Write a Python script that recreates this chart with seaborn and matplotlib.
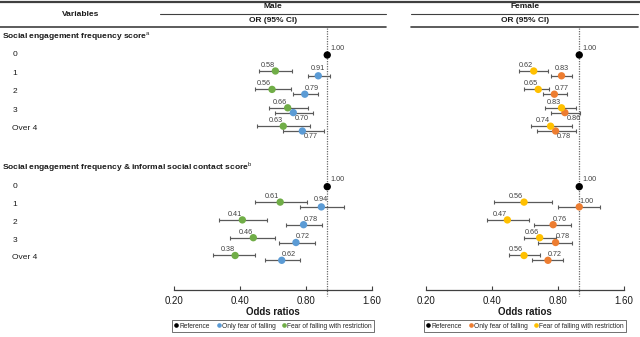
import matplotlib
matplotlib.use("Agg")
import matplotlib.pyplot as plt
from matplotlib.lines import Line2D
from matplotlib.ticker import NullLocator
import numpy as np
import pandas as pd
import seaborn as sns

# ---------------- data ----------------
row_labels = ["0", "1", "2", "3", "Over 4"]
section_titles = [
    r"Social engagement frequency score$^{\mathrm{a}}$",
    r"Social engagement frequency & informal social contact score$^{\mathrm{b}}$",
]
tick_values = [0.20, 0.40, 0.80, 1.60]
tick_labels = ["0.20", "0.40", "0.80", "1.60"]
reference_or = 1.00

# Male: rows 1, 2, 3, Over 4 of each score (row 0 is the reference)
male_s1_fear = [0.91, 0.79, 0.70, 0.77]
male_s1_fear_lo = [0.82, 0.70, 0.58, 0.63]
male_s1_fear_hi = [1.03, 0.91, 0.86, 0.97]
male_s1_restr = [0.58, 0.56, 0.66, 0.63]
male_s1_restr_lo = [0.49, 0.47, 0.54, 0.48]
male_s1_restr_hi = [0.69, 0.68, 0.82, 0.83]

male_s2_fear = [0.94, 0.78, 0.72, 0.62]
male_s2_fear_lo = [0.75, 0.65, 0.60, 0.52]
male_s2_fear_hi = [1.19, 0.95, 0.88, 0.75]
male_s2_restr = [0.61, 0.41, 0.46, 0.38]
male_s2_restr_lo = [0.47, 0.32, 0.36, 0.30]
male_s2_restr_hi = [0.81, 0.53, 0.58, 0.47]

# Female
female_s1_fear = [0.83, 0.77, 0.86, 0.78]
female_s1_fear_lo = [0.74, 0.68, 0.74, 0.64]
female_s1_fear_hi = [0.93, 0.88, 1.01, 0.97]
female_s1_restr = [0.62, 0.65, 0.83, 0.74]
female_s1_restr_lo = [0.53, 0.56, 0.70, 0.60]
female_s1_restr_hi = [0.72, 0.73, 0.97, 0.93]

female_s2_fear = [1.00, 0.76, 0.78, 0.72]
female_s2_fear_lo = [0.80, 0.62, 0.65, 0.61]
female_s2_fear_hi = [1.24, 0.92, 0.93, 0.84]
female_s2_restr = [0.56, 0.47, 0.66, 0.56]
female_s2_restr_lo = [0.41, 0.38, 0.56, 0.48]
female_s2_restr_hi = [0.75, 0.59, 0.78, 0.66]

groups = ["Reference", "Only fear of falling", "Fear of falling with restriction"]

# where each "only fear of falling" value label sits relative to its dot
male_fear_label_side = [["above", "right", "below", "below"],
                        ["above", "right", "right", "right"]]
female_fear_label_side = [["above", "right", "below", "below"],
                          ["right", "right", "right", "right"]]


def build_frame(sex, s1, s2):
    recs = []
    for sec, (fear, flo, fhi, rs, rlo, rhi) in enumerate([s1, s2]):
        recs.append(dict(sex=sex, section=sec, row=0, group="Reference",
                         OR=reference_or, lo=reference_or, hi=reference_or))
        for i in range(4):
            recs.append(dict(sex=sex, section=sec, row=i + 1, group=groups[1],
                             OR=fear[i], lo=flo[i], hi=fhi[i]))
            recs.append(dict(sex=sex, section=sec, row=i + 1, group=groups[2],
                             OR=rs[i], lo=rlo[i], hi=rhi[i]))
    return pd.DataFrame(recs)


df = pd.concat([
    build_frame("Male",
                (male_s1_fear, male_s1_fear_lo, male_s1_fear_hi,
                 male_s1_restr, male_s1_restr_lo, male_s1_restr_hi),
                (male_s2_fear, male_s2_fear_lo, male_s2_fear_hi,
                 male_s2_restr, male_s2_restr_lo, male_s2_restr_hi)),
    build_frame("Female",
                (female_s1_fear, female_s1_fear_lo, female_s1_fear_hi,
                 female_s1_restr, female_s1_restr_lo, female_s1_restr_hi),
                (female_s2_fear, female_s2_fear_lo, female_s2_fear_hi,
                 female_s2_restr, female_s2_restr_lo, female_s2_restr_hi)),
], ignore_index=True)

# ---------------- layout (pixel units of the 640x337 canvas) ----------------
W, H = 640, 337
section_start = [55.0, 186.7]
section_step = [18.4, 17.8]
section_title_y = [36.5, 167.5]
group_offset = {"Reference": 0.0, groups[1]: 2.4, groups[2]: -2.4}

df["ypos"] = [section_start[s] + r * section_step[s] + group_offset[g]
              for s, r, g in zip(df["section"], df["row"], df["group"])]

sns.set_theme(style="white")
plt.rcParams["font.family"] = ["Liberation Sans", "DejaVu Sans"]
plt.rcParams["mathtext.fontset"] = "custom"
plt.rcParams["mathtext.rm"] = "Liberation Sans"
plt.rcParams["mathtext.bf"] = "Liberation Sans:bold"

TXT = "#1a1a1a"
GRID = "#404040"
ERR = "#5a5a5a"

fig = plt.figure(figsize=(6.4, 3.37), dpi=100)
fig.patch.set_facecolor("white")


def fx(px):
    return px / W


def fy(py):
    return 1 - py / H


def hline(y, x0, x1, lw):
    fig.add_artist(Line2D([fx(x0), fx(x1)], [fy(y), fy(y)], color=GRID,
                          lw=lw, transform=fig.transFigure))


# header rules and titles
hline(1.8, 0, 640, 1.6)
hline(14, 160, 386, 0.8)
hline(14, 411, 638, 0.8)
hline(26.5, 0, 386, 1.2)
hline(26.5, 411, 638, 1.2)
fig.text(fx(81), fy(15), "Variables", ha="center", va="center",
         fontsize=6, fontweight="bold", color=TXT)

for sec in range(2):
    fig.text(fx(2), fy(section_title_y[sec]), section_titles[sec], ha="left",
             va="center", fontsize=6, fontweight="bold", color=TXT)
    for r, lab in enumerate(row_labels):
        fig.text(fx(12.5), fy(section_start[sec] + r * section_step[sec]), lab,
                 ha="left", va="center", fontsize=6, color=TXT)

panels = [
    ("Male", 174, 273, {"Reference": "black", groups[1]: "#5b9bd5",
                        groups[2]: "#70ad47"}, male_fear_label_side),
    ("Female", 426, 525, {"Reference": "black", groups[1]: "#ed7d31",
                          groups[2]: "#ffc000"}, female_fear_label_side),
]

ax_top, ax_bottom = 28, 290
for sex, x0, xc, pal, fear_sides in panels:
    fig.text(fx(xc), fy(6.5), sex, ha="center", va="center", fontsize=6,
             fontweight="bold", color=TXT)
    fig.text(fx(xc), fy(20.5), "OR (95% CI)", ha="center", va="center",
             fontsize=6, fontweight="bold", color=TXT)

    ax = fig.add_axes([fx(x0), fy(ax_bottom), 198 / W, (ax_bottom - ax_top) / H])
    ax.set_facecolor("none")
    ax.set_xscale("log")
    ax.set_xlim(0.2, 1.6)
    ax.set_ylim(ax_bottom, ax_top)

    sub = df[df["sex"] == sex]
    ci = sub[sub["group"] != "Reference"]
    ax.errorbar(ci["OR"], ci["ypos"],
                xerr=[ci["OR"] - ci["lo"], ci["hi"] - ci["OR"]],
                fmt="none", ecolor=ERR, elinewidth=0.9, capsize=1.6,
                capthick=0.8, zorder=2)
    sns.scatterplot(data=sub, x="OR", y="ypos", hue="group", palette=pal,
                    s=28, linewidth=0, legend=False, ax=ax, zorder=3)

    # reference line at OR = 1
    ax.plot([reference_or, reference_or], [ax_top, 296], ls=(0, (1, 1)),
            color="#6a6a6a", lw=0.9, clip_on=False, zorder=1)

    # value labels
    for _, rw in sub.iterrows():
        txt = f"{rw['OR']:.2f}"
        if rw["group"] == "Reference":
            kw = dict(xytext=(2.5, 2.5), ha="left", va="bottom")
        elif rw["group"] == groups[2]:
            kw = dict(xytext=(-0.5, 1.5), ha="right", va="bottom")
        else:
            side = fear_sides[rw["section"]][rw["row"] - 1]
            if side == "above":
                kw = dict(xytext=(0, 3.0), ha="center", va="bottom")
            elif side == "right":
                kw = dict(xytext=(0.0, 1.5), ha="left", va="bottom")
            else:
                kw = dict(xytext=(1.0, -1.5), ha="left", va="top")
        ax.annotate(txt, (rw["OR"], rw["ypos"]), textcoords="offset points",
                    fontsize=5.2, color="#404040", **kw)

    for sp in ["top", "left", "right"]:
        ax.spines[sp].set_visible(False)
    ax.spines["bottom"].set_color(GRID)
    ax.spines["bottom"].set_linewidth(0.9)
    ax.set_xticks(tick_values)
    ax.set_xticklabels(tick_labels)
    ax.xaxis.set_minor_locator(NullLocator())
    ax.tick_params(axis="x", direction="in", length=3, width=0.8,
                   color=GRID, pad=4, labelsize=7, labelcolor=TXT, bottom=True)
    ax.set_yticks([])
    ax.set_ylabel("")
    ax.set_xlabel("Odds ratios", fontsize=7, fontweight="bold", color=TXT,
                  labelpad=1.0)

    handles = [Line2D([], [], marker="o", ls="none", color=pal[g],
                      markersize=2.3, label=g) for g in groups]
    leg = ax.legend(handles=handles, loc="center", ncol=3,
                    bbox_to_anchor=(fx(xc), fy(326)),
                    bbox_transform=fig.transFigure, fontsize=4.8,
                    frameon=True, fancybox=False, handlelength=0.6,
                    handletextpad=0.15, columnspacing=1.0, borderpad=0.35,
                    borderaxespad=0)
    leg.get_frame().set_edgecolor("#303030")
    leg.get_frame().set_linewidth(0.6)

fig.savefig("out.png", dpi=100, facecolor="white")
